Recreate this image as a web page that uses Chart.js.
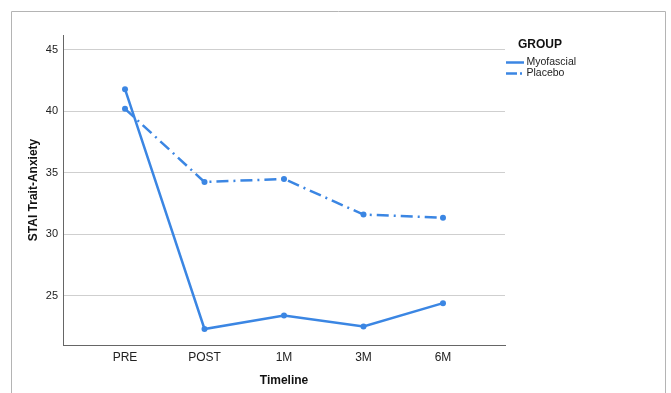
<!DOCTYPE html>
<html>
<head>
<meta charset="utf-8">
<script src="https://cdn.jsdelivr.net/npm/chart.js@4.4.1/dist/chart.umd.min.js"></script>
<style>
  html, body { margin: 0; padding: 0; background: #fff; }
  #wrap { position: relative; width: 671px; height: 393px; }
</style>
</head>
<body>
<div id="wrap"><canvas id="c" width="671" height="393"></canvas></div>
<script>
const categories = ["PRE", "POST", "1M", "3M", "6M"];
const myofascial = [41.8, 22.3, 23.4, 22.5, 24.4];
const placebo = [40.2, 34.25, 34.5, 31.6, 31.35];
const yTicks = [25, 30, 35, 40, 45];
const legendTitle = "GROUP";
const seriesNames = ["Myofascial", "Placebo"];

const BLUE = "#3b86e3";
const FONT = "'Liberation Sans', Arial, Helvetica, sans-serif";

const toPoints = arr => arr.map((v, i) => ({ x: i, y: v }));

const framePlugin = {
  id: 'frame',
  beforeDraw(chart) {
    const ctx = chart.ctx;
    ctx.save();
    ctx.strokeStyle = '#b4b4b4';
    ctx.lineWidth = 1;
    ctx.beginPath();
    ctx.moveTo(11.5, 400);
    ctx.lineTo(11.5, 11.5);
    ctx.lineTo(665.5, 11.5);
    ctx.lineTo(665.5, 400);
    ctx.stroke();
    ctx.restore();
  },
  afterDraw(chart) {
    const ctx = chart.ctx;
    ctx.save();
    ctx.fillStyle = '#111';
    ctx.font = "bold 12px " + FONT;
    ctx.textBaseline = 'middle';
    ctx.textAlign = 'left';
    ctx.fillText(legendTitle, 518, 45);
    ctx.font = "10.5px " + FONT;
    const ys = [62.5, 73.5];
    chart.data.datasets.forEach((ds, i) => {
      const y = ys[i];
      ctx.strokeStyle = ds.borderColor;
      ctx.lineWidth = 2.5;
      ctx.setLineDash(i === 0 ? [] : [11, 3, 2, 20]);
      ctx.beginPath();
      ctx.moveTo(506, y);
      ctx.lineTo(524, y);
      ctx.stroke();
      ctx.setLineDash([]);
      ctx.fillStyle = '#222';
      ctx.fillText(ds.label, 526.5, y);
    });
    ctx.restore();
  }
};

new Chart(document.getElementById('c'), {
  type: 'line',
  data: {
    datasets: [
      {
        label: seriesNames[0],
        data: toPoints(myofascial),
        borderColor: BLUE,
        backgroundColor: BLUE,
        borderWidth: 2.5,
        pointRadius: 3,
        pointBorderWidth: 0,
        tension: 0
      },
      {
        label: seriesNames[1],
        data: toPoints(placebo),
        borderColor: BLUE,
        backgroundColor: BLUE,
        borderWidth: 2.5,
        borderDash: [12, 5, 2, 5],
        pointRadius: 3,
        pointBorderWidth: 0,
        tension: 0
      }
    ]
  },
  options: {
    responsive: false,
    animation: false,
    devicePixelRatio: 1,
    layout: { padding: { left: 22, top: 35, right: 166, bottom: 1 } },
    plugins: { legend: { display: false }, tooltip: { enabled: false } },
    scales: {
      x: {
        type: 'linear',
        min: -0.78,
        max: 4.78,
        afterBuildTicks(scale) { scale.ticks = categories.map((c, i) => ({ value: i })); },
        afterFit(scale) { scale.height = 47; },
        ticks: {
          callback: (v) => categories[v],
          color: '#222',
          font: { family: FONT, size: 12 },
          padding: 5,
          maxRotation: 0,
          autoSkip: false
        },
        grid: { display: false, drawTicks: false },
        border: { display: true, color: '#666', width: 1 },
        title: {
          display: true,
          text: 'Timeline',
          color: '#111',
          font: { family: FONT, size: 12, weight: 'bold' }
        }
      },
      y: {
        min: 21,
        max: 46.2,
        afterBuildTicks(scale) { scale.ticks = yTicks.map(v => ({ value: v })); },
        afterFit(scale) { scale.width = 41; },
        ticks: {
          color: '#222',
          font: { family: FONT, size: 11 },
          padding: 5
        },
        grid: { color: '#cfcfcf', lineWidth: 1, drawTicks: false },
        border: { display: true, color: '#666', width: 1 },
        title: {
          display: true,
          text: 'STAI Trait-Anxiety',
          color: '#111',
          font: { family: FONT, size: 12, weight: 'bold' }
        }
      }
    }
  },
  plugins: [framePlugin]
});
</script>
</body>
</html>
